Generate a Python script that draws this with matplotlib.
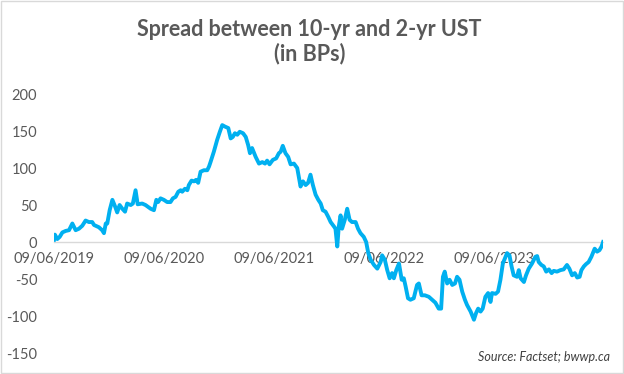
import matplotlib
matplotlib.use("Agg")
import matplotlib.pyplot as plt
import matplotlib.dates as mdates
import pandas as pd

plt.rcParams['font.family'] = ['Lato', 'DejaVu Sans']

title = "Spread between 10-yr and 2-yr UST\n(in BPs)"
source = "Source: Factset; bwwp.ca"

dates = [
    "2019-09-06", "2019-09-09", "2019-09-17", "2019-09-25", "2019-10-04", "2019-10-15",
    "2019-10-26", "2019-11-06", "2019-11-17", "2019-11-28", "2019-12-09", "2019-12-20",
    "2019-12-31", "2020-01-11", "2020-01-17", "2020-02-02", "2020-02-13", "2020-02-19",
    "2020-02-25", "2020-03-01", "2020-03-09", "2020-03-18", "2020-03-27", "2020-04-03",
    "2020-04-11", "2020-04-20", "2020-04-29", "2020-05-06", "2020-05-18", "2020-05-25",
    "2020-06-03", "2020-06-10", "2020-06-25", "2020-07-06", "2020-07-23", "2020-08-03",
    "2020-08-11", "2020-08-17", "2020-08-25", "2020-09-05", "2020-09-16", "2020-09-27",
    "2020-10-05", "2020-10-14", "2020-10-23", "2020-10-31", "2020-11-05", "2020-11-14",
    "2020-11-22", "2020-11-27", "2020-12-06", "2020-12-14", "2020-12-21", "2020-12-28",
    "2021-01-05", "2021-01-16", "2021-01-27", "2021-02-02", "2021-02-07", "2021-02-18",
    "2021-03-01", "2021-03-10", "2021-03-18", "2021-03-27", "2021-04-07", "2021-04-15",
    "2021-04-22", "2021-04-29", "2021-05-07", "2021-05-15", "2021-05-26", "2021-06-04",
    "2021-06-12", "2021-06-18", "2021-06-25", "2021-07-07", "2021-07-18", "2021-07-29",
    "2021-08-07", "2021-08-14", "2021-08-22", "2021-09-02", "2021-09-13", "2021-09-22",
    "2021-09-28", "2021-10-05", "2021-10-14", "2021-10-23", "2021-10-31", "2021-11-11",
    "2021-11-22", "2021-12-03", "2021-12-11", "2021-12-20", "2021-12-28", "2022-01-05",
    "2022-01-13", "2022-01-22", "2022-01-31", "2022-02-08", "2022-02-15", "2022-02-24",
    "2022-03-05", "2022-03-13", "2022-03-24", "2022-03-29", "2022-04-04", "2022-04-09",
    "2022-04-15", "2022-04-20", "2022-04-29", "2022-05-07", "2022-05-15", "2022-05-23",
    "2022-06-04", "2022-06-12", "2022-06-20", "2022-07-01", "2022-07-09", "2022-07-16",
    "2022-07-24", "2022-08-04", "2022-08-15", "2022-08-26", "2022-08-31", "2022-09-09",
    "2022-09-17", "2022-09-25", "2022-10-03", "2022-10-09", "2022-10-17", "2022-10-26",
    "2022-11-04", "2022-11-11", "2022-11-17", "2022-11-25", "2022-12-03", "2022-12-14",
    "2022-12-25", "2022-12-31", "2023-01-09", "2023-01-20", "2023-02-02", "2023-02-13",
    "2023-02-24", "2023-03-07", "2023-03-15", "2023-03-21", "2023-03-27", "2023-04-04",
    "2023-04-12", "2023-04-21", "2023-04-30", "2023-05-07", "2023-05-15", "2023-05-24",
    "2023-06-02", "2023-06-09", "2023-06-21", "2023-07-02", "2023-07-09", "2023-07-16",
    "2023-07-24", "2023-07-31", "2023-08-09", "2023-08-18", "2023-08-26", "2023-08-31",
    "2023-09-12", "2023-09-20", "2023-09-28", "2023-10-06", "2023-10-15", "2023-10-20",
    "2023-10-28", "2023-11-04", "2023-11-11", "2023-11-22", "2023-11-28", "2023-12-04",
    "2023-12-15", "2023-12-22", "2023-12-31", "2024-01-11", "2024-01-22", "2024-01-28",
    "2024-02-02", "2024-02-11", "2024-02-19", "2024-02-27", "2024-03-07", "2024-03-16",
    "2024-03-23", "2024-04-03", "2024-04-14", "2024-04-25", "2024-05-06", "2024-05-14",
    "2024-05-23", "2024-06-01", "2024-06-09", "2024-06-17", "2024-06-23", "2024-07-01",
    "2024-07-08", "2024-07-17", "2024-07-26", "2024-08-06", "2024-08-14", "2024-08-22",
    "2024-08-29", "2024-09-03",
]

spread_bps = [
    3, 10, 4, 7, 13, 15,
    16, 25, 16, 18, 22, 29,
    27, 27, 23, 20, 16, 12,
    25, 25, 43, 57, 48, 40,
    50, 45, 41, 52, 50, 52,
    70, 51, 52, 50, 45, 43,
    57, 54, 59, 57, 54, 54,
    59, 61, 68, 70, 68, 72,
    70, 77, 83, 82, 84, 80,
    95, 97, 97, 102, 108, 122,
    138, 149, 158, 156, 154, 140,
    142, 147, 145, 149, 147, 142,
    131, 120, 127, 115, 106, 108,
    106, 110, 105, 111, 113, 120,
    122, 130, 120, 115, 105, 106,
    100, 75, 82, 77, 80, 91,
    77, 64, 57, 52, 43, 41,
    34, 27, 21, 18, -6, 21,
    36, 18, 30, 45, 30, 27,
    27, 18, 12, 7, 0, -15,
    -24, -31, -36, -27, -18, -24,
    -38, -49, -42, -49, -38, -29,
    -51, -49, -60, -76, -78, -76,
    -58, -56, -72, -72, -74, -78,
    -82, -90, -90, -47, -40, -56,
    -51, -58, -56, -47, -51, -67,
    -78, -85, -94, -105, -96, -90,
    -94, -90, -74, -69, -81, -69,
    -70, -67, -51, -29, -20, -15,
    -18, -33, -45, -47, -38, -49,
    -54, -45, -36, -29, -20, -19,
    -27, -31, -33, -40, -37, -42,
    -39, -40, -38, -37, -31, -36,
    -45, -42, -48, -47, -38, -33,
    -30, -27, -20, -9, -13, -11,
    -6, 0,
]

tick_dates = ["2019-09-06", "2020-09-06", "2021-09-06", "2022-09-06", "2023-09-06"]
tick_labels = ["09/06/2019", "09/06/2020", "09/06/2021", "09/06/2022", "09/06/2023"]
y_ticks = [-150, -100, -50, 0, 50, 100, 150, 200]

x = pd.to_datetime(dates)
text_color = "#595959"

fig = plt.figure(figsize=(6.24, 3.74), dpi=100)
ax = fig.add_axes([0.0865, 0.0561, 0.880, 0.6925])

ax.plot(x, spread_bps, color="#00B0F0", linewidth=2.8, solid_joinstyle="round", zorder=3)

ax.set_xlim(x[0], x[-1])
ax.set_ylim(-150, 200)
ax.set_yticks(y_ticks)
ax.set_yticklabels([str(v) for v in y_ticks])

for s in ["top", "right", "left"]:
    ax.spines[s].set_visible(False)
ax.spines["bottom"].set_position(("data", 0))
ax.spines["bottom"].set_color("#D9D9D9")
ax.spines["bottom"].set_linewidth(1.0)
ax.spines["bottom"].set_zorder(1)

ax.set_xticks(pd.to_datetime(tick_dates))
ax.set_xticklabels(tick_labels)
ax.tick_params(axis="x", length=0, pad=7, labelsize=10.5, labelcolor=text_color)
ax.tick_params(axis="y", length=0, pad=12, labelsize=10.5, labelcolor=text_color)

fig.text(0.496, 0.889, title, ha="center", va="center", fontsize=15.5,
         fontweight="bold", color=text_color, linespacing=1.12)
fig.text(0.978, 0.045, source, ha="right", va="center", fontsize=9,
         style="italic", color="#404040")

border = plt.Rectangle((0.001, 0.003), 0.997, 0.994, transform=fig.transFigure,
                       fill=False, edgecolor="#D9D9D9", linewidth=1.0)
fig.patches.append(border)

fig.savefig("out.png", dpi=100)
